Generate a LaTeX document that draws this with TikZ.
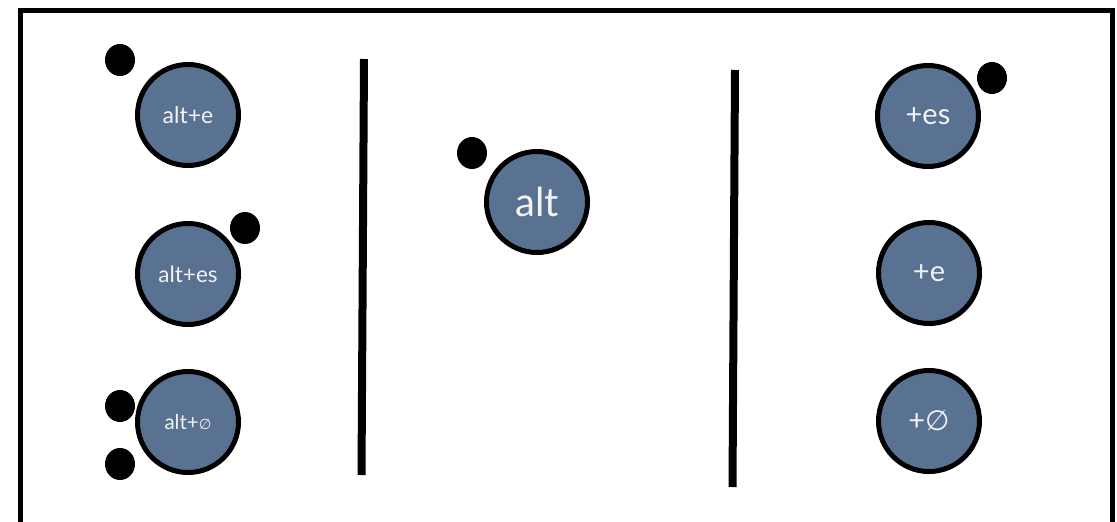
\documentclass[tikz,border=0pt]{standalone}
\usepackage{fontspec}
\setmainfont{Lato}
\newfontfamily\symfont{DejaVu Sans}
\usetikzlibrary{shapes.geometric}
\begin{document}
\definecolor{slate}{RGB}{90,114,145}
\definecolor{labelwhite}{RGB}{242,242,242}
\begin{tikzpicture}[x=1pt,y=-1pt,
  morph/.style={circle,draw=black,line width=5pt,fill=slate,minimum size=101pt,inner sep=0pt,text=labelwhite},
  blob/.style={ellipse,fill=black,minimum width=30pt,minimum height=32pt,inner sep=0pt},
  divider/.style={line width=8pt,draw=black}]
\useasboundingbox (0,0) rectangle (1117,522);
\clip (0,0) rectangle (1117,522);
\fill[white] (0,0) rectangle (1117,522);
\draw[line width=5pt] (20.5,10) rectangle (1112,560);
% dividers
\coordinate (d1t) at (364,59);
\coordinate (d1b) at (361.5,475);
\coordinate (d2t) at (735,70);
\coordinate (d2b) at (732.5,487);
\draw[divider] (d1t) -- (d1b);
\draw[divider] (d2t) -- (d2b);
% left column
\node[morph,font=\fontsize{23}{26}\selectfont] (alte) at (188,115) {alt+e};
\node[morph,font=\fontsize{22.5}{26}\selectfont] (altes) at (188,274) {alt+es};
\node[morph,font=\fontsize{20.5}{24}\selectfont] (alt0) at (188,422) {alt+{\symfont\fontsize{14.5}{17}\selectfont ∅}};
% middle
\node[morph,font=\fontsize{40}{44}\selectfont] (alt) at (537,202) {alt};
% right column
\node[morph,font=\fontsize{29}{32}\selectfont] (pes) at (928,116) {+es};
\node[morph,font=\fontsize{29}{32}\selectfont] (pe) at (929,273) {+e};
\node[morph,font=\fontsize{29}{32}\selectfont] (p0) at (929,421) {+{\symfont\fontsize{28}{32}\selectfont ∅}};
% dots
\node[blob] (b1) at (120,60) {};
\node[blob] (b2) at (245,228) {};
\node[blob] (b3) at (120,406) {};
\node[blob] (b4) at (120,464) {};
\node[blob] (b5) at (472,153) {};
\node[blob] (b6) at (992,78) {};
\end{tikzpicture}
\end{document}
